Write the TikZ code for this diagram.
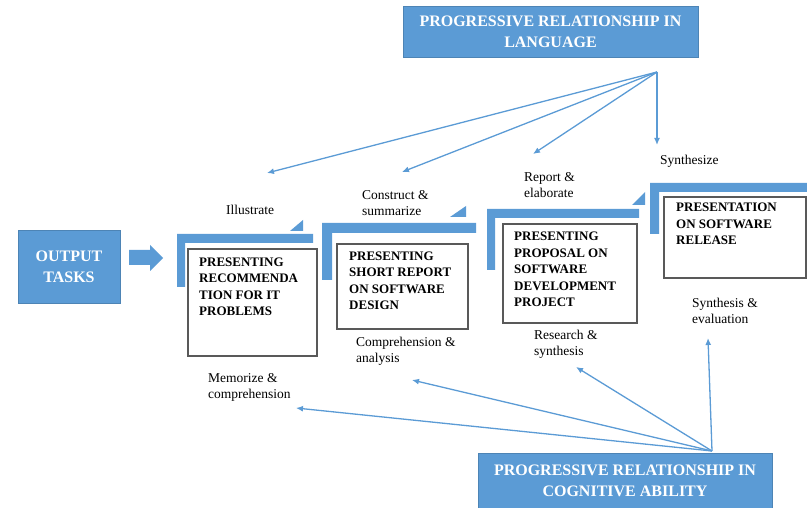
\documentclass[tikz,border=0pt]{standalone}
\usepackage{fontspec}
\setmainfont{Liberation Serif}
\usetikzlibrary{arrows.meta}
\definecolor{sblue}{RGB}{91,155,213}
\begin{document}
\begin{tikzpicture}[x=1pt,y=-1pt,
  bluebox/.style={fill=sblue, draw=sblue!85!black, line width=0.6pt, text=white,
    font=\bfseries\fontsize{16}{21}\selectfont, align=center, inner sep=0},
  taskbox/.style={draw=black!65, line width=1.2pt, fill=white, inner sep=0},
  tasktext/.style={font=\bfseries\fontsize{13}{16.5}\selectfont, align=left, anchor=west, inner sep=0},
  lbl/.style={font=\fontsize{13.5}{16}\selectfont, align=left, anchor=west, inner sep=0},
  conn/.style={draw=sblue, line width=1.3pt, -{Latex[length=7pt,width=6pt]}},
  stepbar/.style={fill=sblue}]
\useasboundingbox (0,0) rectangle (807,508);

% top and bottom headers
\node[bluebox, minimum width=295pt, minimum height=51pt] (lang) at (550.5,31.5)
  {PROGRESSIVE RELATIONSHIP IN\\LANGUAGE};
\node[bluebox, minimum width=294pt, minimum height=56pt] (cog) at (625,481)
  {PROGRESSIVE RELATIONSHIP IN\\COGNITIVE ABILITY};

% output tasks
\node[bluebox, minimum width=102pt, minimum height=73pt] (out) at (69,266.5)
  {OUTPUT\\TASKS};
\fill[sblue] (129,250) -- (150,250) -- (150,245) -- (163,258) -- (150,271) -- (150,265) -- (129,265) -- cycle;

% steps (L-shaped bars and triangles)
\fill[stepbar] (177,234) -- (313,234) -- (313,243) -- (185,243) -- (185,287) -- (177,287) -- cycle;
\fill[stepbar] (290,231) -- (303,231) -- (303,220) -- cycle;
\fill[stepbar] (322,223) -- (476,223) -- (476,233) -- (332,233) -- (332,280) -- (322,280) -- cycle;
\fill[stepbar] (450,217) -- (466,217) -- (466,206) -- cycle;
\fill[stepbar] (487,209) -- (639,209) -- (639,218) -- (495,218) -- (495,270) -- (487,270) -- cycle;
\fill[stepbar] (632,205) -- (645,205) -- (645,192) -- cycle;
\fill[stepbar] (650,183) -- (807,183) -- (807,192) -- (659,192) -- (659,234) -- (650,234) -- cycle;

% task boxes
\node[taskbox, minimum width=129pt, minimum height=107pt] (t1) at (252.5,302.5) {};
\node[taskbox, minimum width=131pt, minimum height=85pt] (t2) at (402.5,286.5) {};
\node[taskbox, minimum width=134pt, minimum height=99pt] (t3) at (570,273.5) {};
\node[taskbox, minimum width=142pt, minimum height=81pt] (t4) at (735,237.5) {};
\node[tasktext] (t1txt) at (199,287) {PRESENTING\\RECOMMENDA\\TION FOR IT\\PROBLEMS};
\node[tasktext] (t2txt) at (349,281) {PRESENTING\\SHORT REPORT\\ON SOFTWARE\\DESIGN};
\node[tasktext] (t3txt) at (514,269.5) {PRESENTING\\PROPOSAL ON\\SOFTWARE\\DEVELOPMENT\\PROJECT};
\node[tasktext] (t4txt) at (676,224) {PRESENTATION\\ON SOFTWARE\\RELEASE};

% language labels
\node[lbl] (l1) at (226,210) {Illustrate};
\node[lbl] (l2) at (362,203.5) {Construct \&\\summarize};
\node[lbl] (l3) at (524,185) {Report \&\\elaborate};
\node[lbl] (l4) at (660,161) {Synthesize};

% cognitive labels
\node[lbl] (c1) at (208,387.5) {Memorize \&\\comprehension};
\node[lbl] (c2) at (356,351) {Comprehension \&\\analysis};
\node[lbl] (c3) at (534,344.5) {Research \&\\synthesis};
\node[lbl] (c4) at (692,310.5) {Synthesis \&\\evaluation};

% connectors from language header
\coordinate (ls) at (657,72);
\coordinate (la1) at (267,173);
\coordinate (la2) at (402,172);
\coordinate (la3) at (533,154);
\coordinate (la4) at (657,145);
\draw[conn] (ls) -- (la1);
\draw[conn] (ls) -- (la2);
\draw[conn] (ls) -- (la3);
\draw[conn] (ls) -- (la4);

% connectors from cognitive header
\coordinate (cs) at (712,451);
\coordinate (ca1) at (296,408);
\coordinate (ca2) at (412,380);
\coordinate (ca3) at (576,367);
\coordinate (ca4) at (708,338);
\draw[conn] (cs) -- (ca1);
\draw[conn] (cs) -- (ca2);
\draw[conn] (cs) -- (ca3);
\draw[conn] (cs) -- (ca4);
\end{tikzpicture}
\end{document}
